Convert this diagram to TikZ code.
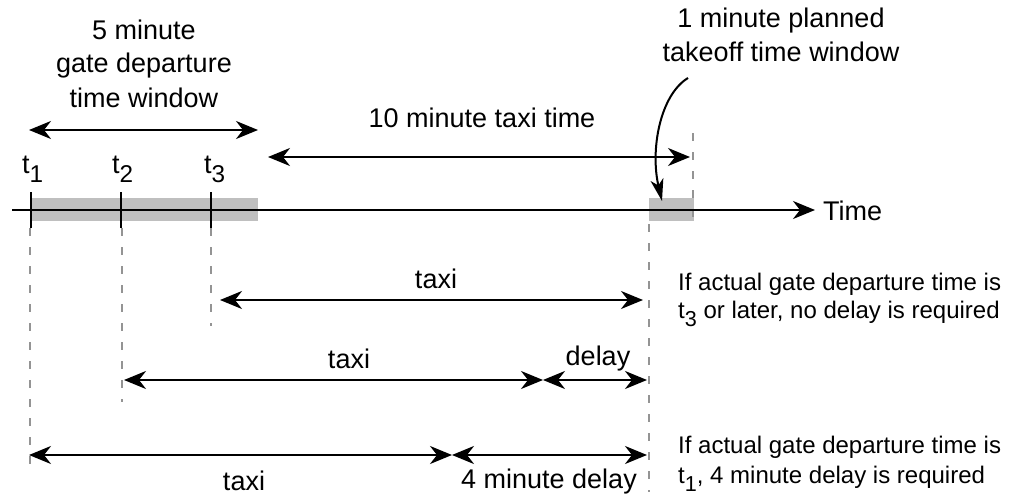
\documentclass[tikz,border=0pt]{standalone}
\usepackage{graphicx}
\usepackage{fontspec}
\setmainfont{Liberation Sans}
\usetikzlibrary{arrows.meta}
% lowered, slightly smaller index for the time marks t1, t2, t3
\newcommand\lowsub[1]{\raisebox{-0.36em}{\scalebox{0.9}{#1}}}
\begin{document}
\begin{tikzpicture}[x=1pt,y=-1pt,
  lbl/.style={font=\fontsize{27}{33}\selectfont, inner sep=0pt, anchor=base},
  note/.style={font=\fontsize{24}{29}\selectfont, inner sep=0pt, anchor=base west},
  tmark/.style={font=\fontsize{27}{33}\selectfont, inner sep=0pt, anchor=base west},
  head/.style={Stealth[length=22pt,width=18pt,inset=7pt]},
  span/.style={line width=2.2pt, {Stealth[length=22pt,width=18pt,inset=7pt]}-{Stealth[length=22pt,width=18pt,inset=7pt]}},
  guide/.style={draw=black!42, line width=2pt, dash pattern=on 8pt off 11pt},
  window/.style={fill=black!25, draw=none},
  tickline/.style={line width=2pt}]
\useasboundingbox (0,0) rectangle (1013,495);

% shaded time windows on the axis
\fill[window] (31,198) rectangle (258,221);
\fill[window] (649,198) rectangle (694,221);

% guide lines
\coordinate (g1a) at (30,228);  \coordinate (g1b) at (30,470);
\coordinate (g2a) at (122,228); \coordinate (g2b) at (122,402);
\coordinate (g3a) at (211,228); \coordinate (g3b) at (211,326);
\coordinate (g4a) at (649,224); \coordinate (g4b) at (649,492);
\coordinate (g5a) at (693,133); \coordinate (g5b) at (693,221);
\draw[guide] (g1a) -- (g1b);
\draw[guide] (g2a) -- (g2b);
\draw[guide] (g3a) -- (g3b);
\draw[guide] (g4a) -- (g4b);
\draw[guide] (g5a) -- (g5b);

% time axis
\coordinate (axL) at (12,210);
\coordinate (axR) at (815,210);
\draw[line width=2.2pt, -{Stealth[length=22pt,width=18pt,inset=7pt]}] (axL) -- (axR);
\node[tmark] (timelbl) at (823,220) {Time};

% ticks and their labels
\coordinate (k1a) at (31,192);  \coordinate (k1b) at (31,228);
\coordinate (k2a) at (121,192); \coordinate (k2b) at (121,228);
\coordinate (k3a) at (211,192); \coordinate (k3b) at (211,228);
\draw[tickline] (k1a) -- (k1b);
\draw[tickline] (k2a) -- (k2b);
\draw[tickline] (k3a) -- (k3b);
\node[tmark] (t1) at (22,173) {t\lowsub{1}};
\node[tmark] (t2) at (112,173) {t\lowsub{2}};
\node[tmark] (t3) at (204,173) {t\lowsub{3}};

% gate departure window
\node[lbl] (gw1) at (144,40) {5 minute};
\node[lbl] (gw2) at (144,73) {gate departure};
\node[lbl] (gw3) at (144,107) {time window};
\coordinate (gwL) at (29,130);
\coordinate (gwR) at (258,130);
\draw[span] (gwL) -- (gwR);

% taxi time
\node[lbl] (tx) at (482,128) {10 minute taxi time};
\coordinate (txL) at (268,157);
\coordinate (txR) at (690,157);
\draw[span] (txL) -- (txR);

% planned takeoff window with its pointer
\node[lbl] (tw1) at (781,28) {1 minute planned};
\node[lbl] (tw2) at (781,62) {takeoff time window};
\coordinate (pS) at (688,78);
\coordinate (pE) at (662,201);
\draw[line width=2pt, -{Stealth[length=22pt,width=13pt,inset=6pt]}]
  (pS) .. controls (660,95) and (650,150) .. (pE);

% case t3: no delay
\coordinate (r1L) at (220,300);
\coordinate (r1R) at (643,300);
\draw[span] (r1L) -- (r1R);
\node[lbl] (r1taxi) at (436,288) {taxi};
\node[note] (n1a) at (678,290) {If actual gate departure time is};
\node[note] (n1b) at (678,318) {t\lowsub{3} or later, no delay is required};

% case t2
\coordinate (r2L) at (124,380);
\coordinate (r2M) at (543,380);
\coordinate (r2R) at (647,380);
\draw[span] (r2L) -- (r2M);
\draw[span] (r2M) -- (r2R);
\node[lbl] (r2taxi) at (349,368) {taxi};
\node[lbl] (r2delay) at (598,365) {delay};

% case t1: 4 minute delay
\coordinate (r3L) at (29,455);
\coordinate (r3M) at (452,455);
\coordinate (r3R) at (647,455);
\draw[span] (r3L) -- (r3M);
\draw[span] (r3M) -- (r3R);
\node[lbl] (r3taxi) at (244,490) {taxi};
\node[lbl] (r3delay) at (549,488) {4 minute delay};
\node[note] (n3a) at (678,453) {If actual gate departure time is};
\node[note] (n3b) at (678,483) {t\lowsub{1}, 4 minute delay is required};
\end{tikzpicture}
\end{document}
